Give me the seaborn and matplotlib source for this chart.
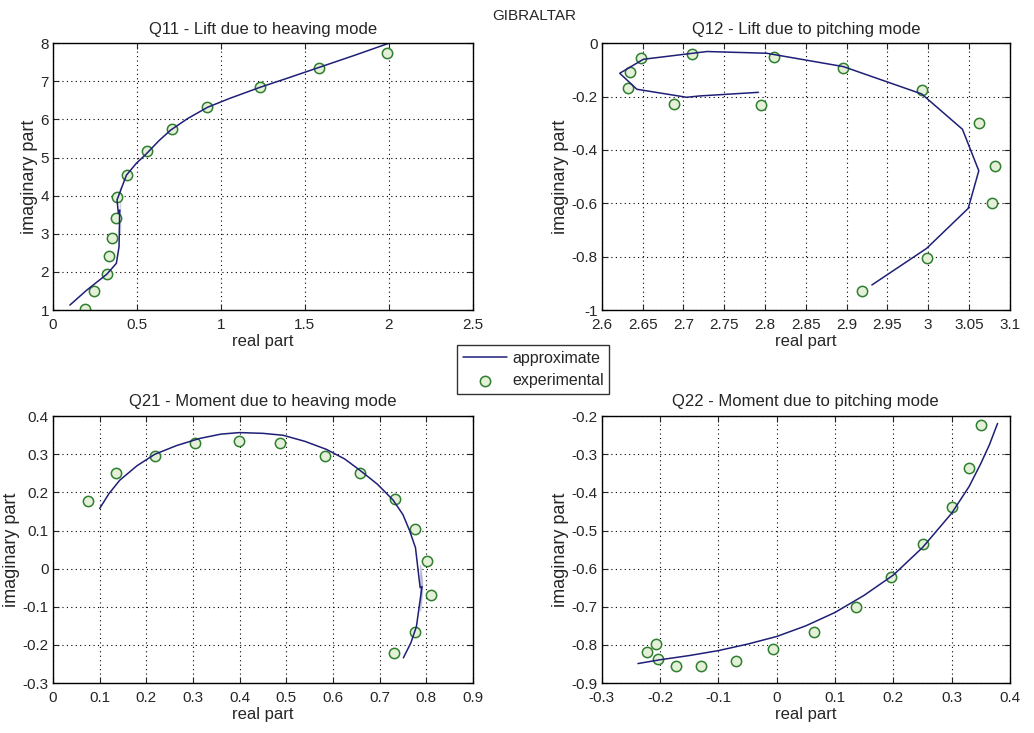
import numpy as np
import pandas as pd
import matplotlib
matplotlib.use("Agg")
import matplotlib.pyplot as plt
import matplotlib.ticker as mticker
import seaborn as sns

sns.set_style("white")
plt.rcParams["font.family"] = ["Liberation Sans Narrow", "Liberation Sans", "DejaVu Sans"]
plt.rcParams["axes.unicode_minus"] = False

LINE_C = "#1f1f78"
EDGE_C = "#2f7f2f"
FACE_C = "#e4f0d8"

# ---------------- Q11 ----------------
q11_exp_re = [0.188, 0.242, 0.321, 0.331, 0.353, 0.373, 0.381, 0.442, 0.562, 0.710, 0.917, 1.234, 1.583, 1.988]
q11_exp_im = [1.04, 1.51, 1.94, 2.42, 2.90, 3.41, 3.96, 4.54, 5.16, 5.74, 6.32, 6.84, 7.34, 7.74]
q11_app_re = [0.10, 0.20, 0.32, 0.377, 0.393, 0.397, 0.389, 0.381, 0.397, 0.437, 0.496, 0.556,
              0.63, 0.70, 0.80, 0.92, 1.05, 1.23, 1.40, 1.58, 1.80, 2.00]
q11_app_im = [1.13, 1.52, 1.94, 2.225, 2.66, 3.01, 3.54, 3.89, 4.24, 4.54, 4.85, 5.10,
              5.44, 5.72, 6.02, 6.32, 6.55, 6.84, 7.09, 7.36, 7.69, 8.00]

# ---------------- Q12 ----------------
q12_exp_re = [2.648, 2.635, 2.632, 2.689, 2.711, 2.795, 2.811, 2.896, 2.992, 3.062, 3.082, 3.078, 2.998, 2.919]
q12_exp_im = [-0.054, -0.106, -0.166, -0.226, -0.041, -0.231, -0.050, -0.094, -0.175, -0.300, -0.460, -0.600, -0.806, -0.928]
q12_app_re = [2.931, 2.998, 3.049, 3.062, 3.042, 2.992, 2.896, 2.802, 2.729, 2.651, 2.622, 2.643, 2.704, 2.720, 2.792]
q12_app_im = [-0.906, -0.769, -0.619, -0.478, -0.3225, -0.19, -0.0875, -0.0375, -0.031, -0.06, -0.1125, -0.1725, -0.2025, -0.1975, -0.184]

# ---------------- Q21 ----------------
q21_exp_re = [0.074, 0.136, 0.218, 0.304, 0.398, 0.486, 0.582, 0.659, 0.734, 0.777, 0.802, 0.811, 0.775, 0.732]
q21_exp_im = [0.178, 0.252, 0.296, 0.330, 0.335, 0.330, 0.296, 0.252, 0.184, 0.104, 0.021, -0.069, -0.165, -0.221]
q21_app_re = [0.100, 0.120, 0.143, 0.180, 0.218, 0.265, 0.314, 0.360, 0.400, 0.450, 0.493, 0.540, 0.586,
              0.625, 0.657, 0.695, 0.729, 0.750, 0.764, 0.777, 0.787, 0.791, 0.791, 0.787, 0.779, 0.767, 0.751]
q21_app_im = [0.158, 0.197, 0.232, 0.270, 0.300, 0.323, 0.3415, 0.353, 0.357, 0.355, 0.350, 0.334, 0.313,
              0.288, 0.259, 0.222, 0.180, 0.142, 0.101, 0.055, 0.010, -0.030, -0.064, -0.110, -0.152, -0.195, -0.234]

# ---------------- Q22 ----------------
q22_exp_re = [-0.223, -0.207, -0.204, -0.173, -0.130, -0.070, -0.007, 0.064, 0.136, 0.196, 0.251, 0.300, 0.330, 0.351]
q22_exp_im = [-0.819, -0.798, -0.836, -0.855, -0.855, -0.843, -0.811, -0.766, -0.701, -0.621, -0.536, -0.437, -0.337, -0.222]
q22_app_re = [-0.238, -0.20, -0.15, -0.10, -0.05, 0.0, 0.05, 0.10, 0.15, 0.20, 0.25, 0.30, 0.33, 0.35, 0.365, 0.379]
q22_app_im = [-0.849, -0.839, -0.828, -0.815, -0.798, -0.778, -0.750, -0.715, -0.670, -0.617, -0.545, -0.455,
              -0.385, -0.325, -0.275, -0.219]

panels = [
    ("Q11 - Lift due to heaving mode", q11_app_re, q11_app_im, q11_exp_re, q11_exp_im,
     (0, 2.5, 0.5), (1, 8, 1), [0.0513, 0.577, 0.406, 0.364]),
    ("Q12 - Lift due to pitching mode", q12_app_re, q12_app_im, q12_exp_re, q12_exp_im,
     (2.6, 3.1, 0.05), (-1, 0, 0.2), [0.582, 0.577, 0.3946, 0.364]),
    ("Q21 - Moment due to heaving mode", q21_app_re, q21_app_im, q21_exp_re, q21_exp_im,
     (0, 0.9, 0.1), (-0.3, 0.4, 0.1), [0.0513, 0.0682, 0.406, 0.364]),
    ("Q22 - Moment due to pitching mode", q22_app_re, q22_app_im, q22_exp_re, q22_exp_im,
     (-0.3, 0.4, 0.1), (-0.9, -0.2, 0.1), [0.582, 0.0682, 0.3946, 0.364]),
]


def fmt(v, pos):
    if abs(v) < 1e-9:
        v = 0.0
    return "%g" % v


fig = plt.figure(figsize=(10.34, 7.33), dpi=100)

for title, are, aim, ere, eim, xr, yr, rect in panels:
    ax = fig.add_axes(rect)
    app = pd.DataFrame({"re": are, "im": aim})
    exp = pd.DataFrame({"re": ere, "im": eim})
    sns.lineplot(data=app, x="re", y="im", sort=False, color=LINE_C, lw=1.1,
                 ax=ax, label="approximate", legend=False)
    sns.scatterplot(data=exp, x="re", y="im", marker="o", s=55, facecolor=FACE_C,
                    edgecolor=EDGE_C, linewidth=1.1, ax=ax, label="experimental", legend=False)
    ax.set_xlim(xr[0], xr[1])
    ax.set_ylim(yr[0], yr[1])
    ax.set_xticks(np.round(np.arange(xr[0], xr[1] + xr[2] / 2, xr[2]), 3))
    ax.set_yticks(np.round(np.arange(yr[0], yr[1] + yr[2] / 2, yr[2]), 3))
    ax.xaxis.set_major_formatter(mticker.FuncFormatter(fmt))
    ax.yaxis.set_major_formatter(mticker.FuncFormatter(fmt))
    ax.grid(True, color="black", linestyle=(0, (1, 3)), linewidth=0.8)
    ax.tick_params(direction="in", length=4, labelsize=11, top=True, right=True,
                   bottom=True, left=True)
    ax.tick_params(axis="x", pad=6)
    ax.tick_params(axis="y", pad=3)
    for sp in ax.spines.values():
        sp.set_color("black")
        sp.set_linewidth(1.0)
    ax.set_title(title, fontsize=12, pad=7)
    ax.set_xlabel("real part", fontsize=12, labelpad=1)
    ax.set_ylabel("imaginary part", fontsize=13, labelpad=2)
    last_ax = ax

fig.text(0.517, 0.978, "GIBRALTAR", ha="center", va="center", fontsize=11)

handles, labels = last_ax.get_legend_handles_labels()
leg = fig.legend(handles, labels, loc="upper left", bbox_to_anchor=(0.442, 0.529),
                 borderaxespad=0, frameon=True, fancybox=False, edgecolor="black", fontsize=11.5,
                 handlelength=2.8, borderpad=0.35, labelspacing=0.45, handletextpad=0.3)
leg.get_frame().set_linewidth(1.0)

fig.savefig("out.png", dpi=100)
